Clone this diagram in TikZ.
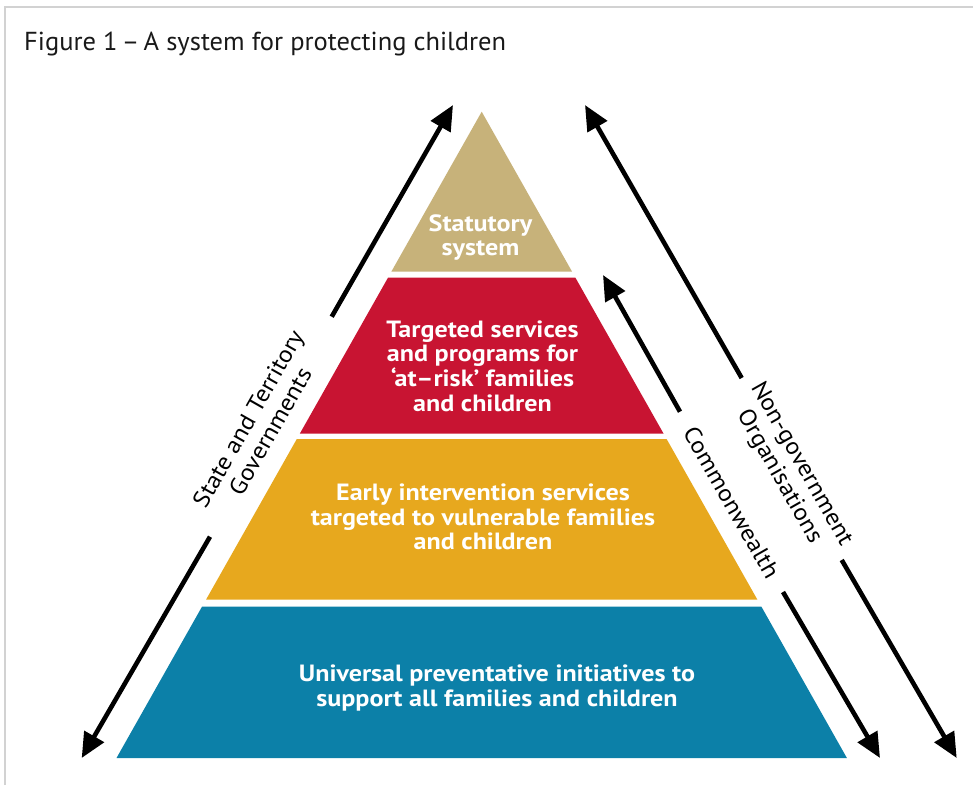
\documentclass[tikz,border=0pt]{standalone}
\usepackage{fontspec}
\setmainfont{PT Sans}
\newfontfamily\layfont[FakeStretch=1.11]{PT Sans}
\newfontfamily\sidefont[FakeStretch=1.08]{PT Sans}
\newfontfamily\titlefont[FakeStretch=1.02]{PT Sans}
\usetikzlibrary{arrows.meta}
\definecolor{tanc}{RGB}{199,178,122}
\definecolor{redc}{RGB}{200,20,50}
\definecolor{yelc}{RGB}{231,168,30}
\definecolor{bluc}{RGB}{12,128,168}
\begin{document}
\begin{tikzpicture}[x=1pt,y=-1pt,
  arr/.style={line width=4.6pt,-{Triangle[length=25pt,width=22pt]}},
  laytext/.style={text=white,font=\layfont\bfseries\fontsize{23.5}{24.6}\selectfont,align=center,inner sep=0pt},
  side/.style={font=\sidefont\fontsize{23.5}{25.5}\selectfont,align=center,inner sep=0pt}]
\useasboundingbox (0,0) rectangle (973,785);
\fill[white] (0,0) rectangle (973,785);
% frame shadow
\draw[gray!35,line width=2pt] (5,785) -- (5,7) -- (973,7);
% title
\node[anchor=base west,inner sep=0pt,text=black!90,font=\titlefont\fontsize{26}{28}\selectfont] (title) at (24,50) {Figure 1\,–\,A system for protecting children};
% pyramid layers
\fill[tanc] (481.7,111.7) -- (572.1,271.7) -- (391.3,271.7) -- cycle;
\fill[redc] (388.1,277.5) -- (575.3,277.5) -- (663.5,433.5) -- (299.9,433.5) -- cycle;
\fill[yelc] (296.8,439) -- (666.6,439) -- (757.3,599.5) -- (206.1,599.5) -- cycle;
\fill[bluc] (202.1,606.5) -- (761.3,606.5) -- (846.9,758) -- (116.5,758) -- cycle;
% layer texts
\node[laytext] (stat) at (480.5,237.5) {Statutory\\system};
\node[laytext] (targ) at (482.5,366) {Targeted services\\and programs for\\‘at–risk’ families\\and children};
\node[laytext] (early) at (483,517) {Early intervention services\\targeted to vulnerable families\\and children};
\node[laytext] (univ) at (497,688) {Universal preventative initiatives to\\support all families and children};
% side labels
\node[side,rotate=60.4] (state) at (259,425) {State and Territory\\Governments};
\node[side,rotate=-60.2] (cw) at (731.7,502.5) {Commonwealth};
\node[side,rotate=-60.4] (ngo) at (790,470.5) {Non-government\\Organisations};
% arrow end coordinates
\coordinate (Ltop) at (453,105);
\coordinate (Lup) at (331.7,316.7);
\coordinate (Llow) at (210,536.7);
\coordinate (Lbot) at (81.7,758);
\coordinate (Ctop) at (603,275);
\coordinate (Cup) at (680,411.7);
\coordinate (Clow) at (783,592);
\coordinate (Cbot) at (880,758);
\coordinate (Ntop) at (585,105);
\coordinate (Nup) at (741.7,378);
\coordinate (Nlow) at (841.7,560);
\coordinate (Nbot) at (956.7,758);
% arrows
\draw[arr] (Lup) -- (Ltop);
\draw[arr] (Llow) -- (Lbot);
\draw[arr] (Cup) -- (Ctop);
\draw[arr] (Clow) -- (Cbot);
\draw[arr] (Nup) -- (Ntop);
\draw[arr] (Nlow) -- (Nbot);
\end{tikzpicture}
\end{document}
